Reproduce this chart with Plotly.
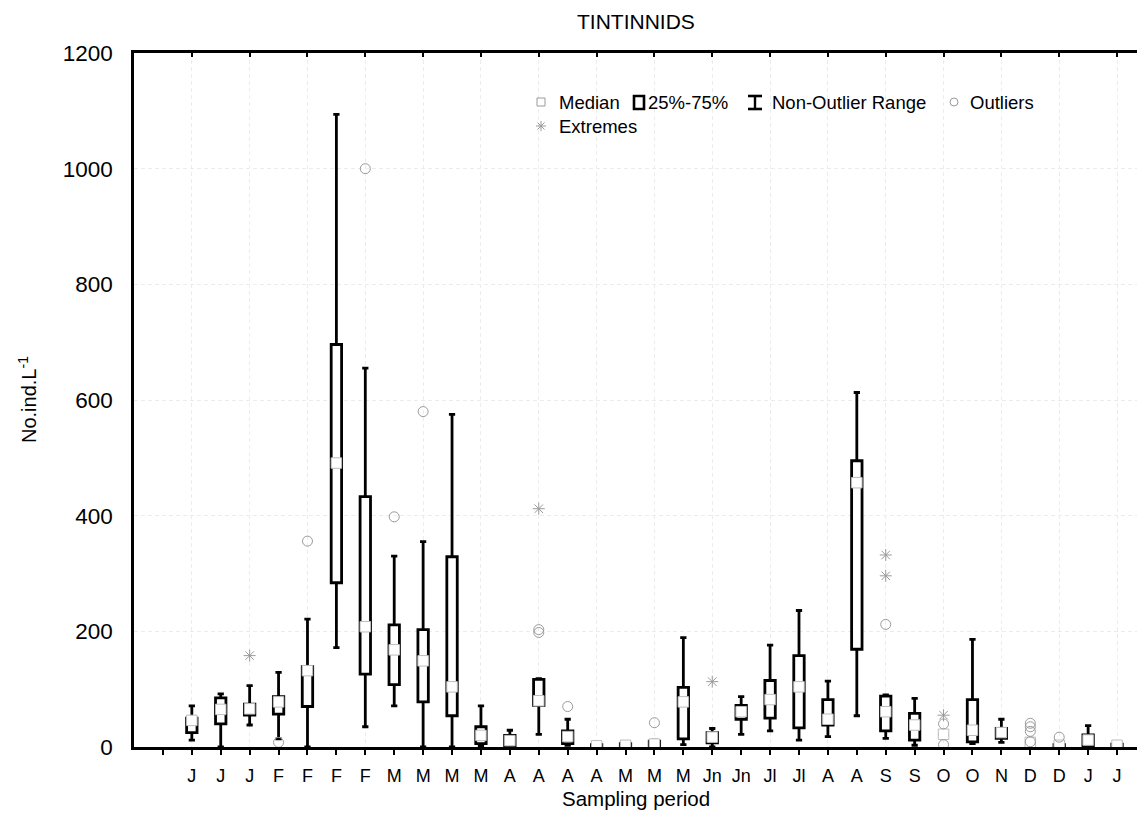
import plotly.graph_objects as go

labels = ["J", "J", "J", "F", "F", "F", "F", "M", "M", "M", "M", "A", "A", "A", "A",
          "M", "M", "M", "Jn", "Jn", "Jl", "Jl", "A", "A", "S", "S", "O", "O", "N",
          "D", "D", "J", "J"]
lower_range = [12, 0, 38, 14, 0, 172, 35, 71, 0, 0, 2, 0, 22, 3, 0, 0, 0, 4, 0, 22,
               28, 12, 18, 54, 15, 3, 22, 6, 8, 8, 0, 0, 0]
q25 = [25, 40, 55, 57, 70, 284, 126, 108, 78, 54, 6, 2, 72, 6, 0, 1, 1, 14, 7, 48,
       50, 33, 38, 169, 28, 12, 22, 9, 15, 8, 1, 1, 0]
medians = [46, 65, 66, 78, 132, 491, 208, 168, 149, 104, 20, 11, 80, 18, 2, 3, 5, 78,
           17, 61, 82, 104, 48, 457, 61, 38, 22, 29, 25, 8, 3, 12, 3]
q75 = [50, 85, 74, 87, 139, 696, 433, 211, 203, 329, 35, 20, 117, 28, 4, 6, 10, 103,
       25, 72, 115, 158, 82, 495, 88, 58, 22, 82, 32, 8, 4, 21, 5]
upper_range = [71, 92, 106, 129, 221, 1094, 655, 330, 355, 575, 71, 29, 118, 48, 5,
               8, 12, 189, 32, 87, 176, 236, 114, 613, 90, 84, 22, 186, 48, 8, 6, 37, 6]
outlier_pos = [4, 5, 7, 8, 9, 13, 13, 14, 17, 25, 27, 27, 30, 30, 30, 30, 31]
outlier_val = [8, 356, 1000, 398, 580, 203, 198, 70, 42, 212, 40, 4, 41, 35, 27, 9, 17]
extreme_pos = [3, 13, 19, 25, 25, 27]
extreme_val = [158, 412, 113, 332, 296, 55]
y_ticks = [0, 200, 400, 600, 800, 1000, 1200]

positions = list(range(1, len(labels) + 1))

FONT = "Liberation Sans, Arial, sans-serif"
L, R, T, B = 134, 1137, 53, 747
W, H = R - L, B - T
GREY = "#9a9a9a"


def px(X):
    return (X - L) / W


def py(Y):
    return (B - Y) / H


fig = go.Figure()

fig.add_trace(go.Box(
    x=positions, q1=q25, median=medians, q3=q75,
    lowerfence=lower_range, upperfence=upper_range,
    boxpoints=False, width=0.36, whiskerwidth=0.6,
    fillcolor="white", line=dict(color="black", width=2.8),
    showlegend=False, hoverinfo="skip"))

fig.add_trace(go.Scatter(
    x=positions, y=medians, mode="markers",
    marker=dict(symbol="square", size=10.5, color="white",
                line=dict(color="#bdbdbd", width=1)),
    showlegend=False, hoverinfo="skip"))

fig.add_trace(go.Scatter(
    x=outlier_pos, y=outlier_val, mode="markers",
    marker=dict(symbol="circle-open", size=10, color=GREY,
                line=dict(color=GREY, width=1)),
    showlegend=False, hoverinfo="skip"))

fig.add_trace(go.Scatter(
    x=extreme_pos, y=extreme_val, mode="markers",
    marker=dict(symbol="asterisk-open", size=10, color=GREY,
                line=dict(color=GREY, width=1)),
    showlegend=False, hoverinfo="skip"))

# invisible trace on the top axis so it is drawn
fig.add_trace(go.Scatter(x=[positions[0]], y=[0], xaxis="x2", mode="markers",
                         marker=dict(opacity=0), showlegend=False, hoverinfo="skip"))


def pline(x0, y0, x1, y1, color="black", width=2.6):
    return dict(type="line", xref="paper", yref="paper", x0=px(x0), x1=px(x1),
                y0=py(y0), y1=py(y1), line=dict(color=color, width=width))


shapes = [
    # median icon
    dict(type="rect", xref="paper", yref="paper", x0=px(537), x1=px(545),
         y0=py(106), y1=py(98), line=dict(color=GREY, width=1), fillcolor="white"),
    # box icon
    dict(type="rect", xref="paper", yref="paper", x0=px(634), x1=px(644),
         y0=py(109), y1=py(96), line=dict(color="black", width=2.6), fillcolor="white"),
    # whisker icon
    pline(748, 96, 762, 96), pline(748, 109, 762, 109),
    pline(755, 96, 755, 109, width=2.4),
    # outlier icon
    dict(type="circle", xref="paper", yref="paper", x0=px(950), x1=px(958),
         y0=py(106), y1=py(98), line=dict(color=GREY, width=1)),
    # extreme icon
    pline(541, 121, 541, 131, GREY, 1), pline(536, 126, 546, 126, GREY, 1),
    pline(537.5, 122.5, 544.5, 129.5, GREY, 1), pline(537.5, 129.5, 544.5, 122.5, GREY, 1),
]

annotations = []
for X, Y, txt in [(557, 102, "Median"), (646, 102, "25%-75%"),
                  (770, 102, "Non-Outlier Range"), (968, 102, "Outliers"),
                  (557, 127, "Extremes")]:
    annotations.append(dict(xref="paper", yref="paper", x=px(X), y=py(Y), text=txt,
                            showarrow=False, xanchor="left", yanchor="middle",
                            font=dict(family=FONT, size=18.5, color="black")))

annotations += [
    dict(xref="paper", yref="paper", x=0.5, y=py(22), text="TINTINNIDS",
         showarrow=False, xanchor="center", yanchor="middle",
         font=dict(family=FONT, size=21, color="black")),
    dict(xref="paper", yref="paper", x=0.5, y=py(798), text="Sampling period",
         showarrow=False, xanchor="center", yanchor="middle",
         font=dict(family=FONT, size=20.5, color="black")),
    dict(xref="paper", yref="paper", x=px(27), y=py(400), text="No.ind.L<sup>-1</sup>",
         showarrow=False, xanchor="center", yanchor="middle", textangle=-90,
         font=dict(family=FONT, size=20, color="black")),
]

x_range = [-1, (R - 162) / 28.94]
grid_color = "#ececec"

fig.update_layout(
    width=1137, height=840,
    margin=dict(l=L, r=1137 - R, t=T, b=840 - B),
    paper_bgcolor="white", plot_bgcolor="white",
    font=dict(family=FONT, color="black"),
    shapes=shapes, annotations=annotations,
    xaxis=dict(range=x_range, tickmode="array", tickvals=positions,
               ticktext=labels, ticks="outside", ticklen=5, tickwidth=2,
               tickcolor="black", showline=True, linecolor="black", linewidth=2.6,
               showgrid=False, zeroline=False, tickfont=dict(size=18),
               ticklabelstandoff=6,
               minor=dict(tickmode="array", tickvals=[0], ticks="outside",
                          ticklen=5, tickwidth=2, tickcolor="black", showgrid=False)),
    xaxis2=dict(range=x_range, overlaying="x", side="top", anchor="y",
                tickmode="array", tickvals=positions[::2], showticklabels=False,
                ticks="inside", ticklen=4, tickwidth=2, tickcolor="black",
                showline=True, linecolor="black", linewidth=2.6,
                showgrid=True, gridcolor=grid_color, griddash="4px,3px", gridwidth=1,
                zeroline=False),
    yaxis=dict(range=[0, 1200], tickmode="array", tickvals=y_ticks,
               showline=True, linecolor="black", linewidth=2.6, ticks="",
               showgrid=True, gridcolor=grid_color, griddash="4px,3px", gridwidth=1,
               zeroline=False, tickfont=dict(size=22.5), ticklabelstandoff=14),
)

fig.write_html("out.html")
